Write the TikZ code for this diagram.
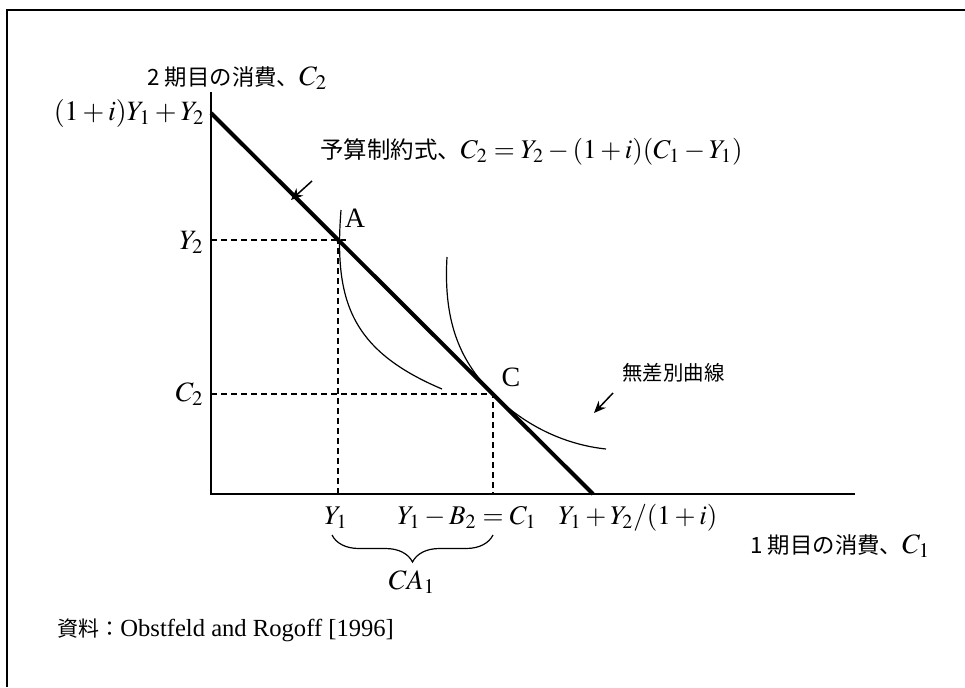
\documentclass[tikz,border=0pt]{standalone}
\usepackage{mathptmx}
\usepackage[no-math]{fontspec}
\setmainfont{Liberation Serif}
\newfontfamily\jpfont{Noto Sans CJK JP}
\usetikzlibrary{arrows.meta,decorations.pathreplacing}
\newcommand{\jtxt}[2]{{\jpfont\fontsize{#1}{#1}\selectfont #2}}
\newcommand{\fsz}[1]{\fontsize{#1}{#1}\selectfont}
\begin{document}
\begin{tikzpicture}[x=0.5pt,y=-0.5pt,
  every node/.style={inner sep=0pt, font=\fontsize{14pt}{16pt}\selectfont},
  axis/.style={line width=0.7pt},
  frameline/.style={line width=1pt},
  budget/.style={line width=2pt},
  guide/.style={line width=0.6pt, dash pattern=on 3pt off 2pt},
  icurve/.style={line width=0.6pt},
  pointer/.style={line width=0.75pt, -{Stealth[length=6pt,width=5pt]}},
  bracestyle/.style={line width=0.6pt, decorate, decoration={brace, amplitude=13.5pt}}
]
\useasboundingbox (0,0) rectangle (965,687);
% frame
\draw[frameline] (7,687) -- (7,10) -- (965,10);
% axes
\coordinate (O) at (211,494);
\coordinate (ytopend) at (211,92);
\coordinate (xend) at (855,494);
\draw[axis] (ytopend) -- (O) -- (xend);
% key points
\coordinate (A) at (338,240);
\coordinate (C) at (493,394);
% dashed guides
\draw[guide] (O |- A) -- (346,240);
\draw[guide] (A |- O) -- (A);
\draw[guide] (O |- C) -- (C) -- (C |- O);
% indifference curves
\draw[icurve] (341,210) .. controls (334,300) and (350,350) .. (442,389);
\draw[icurve] (447,257) .. controls (443,325) and (462,363) .. (C)
              .. controls (527,428) and (568,445) .. (606,449);
% budget line
\coordinate (bt) at (211,113);
\coordinate (bb) at (593,494);
\draw[budget] (bt) -- (bb);
% labels
\node[anchor=west] (ylab) at (147,78) {\jtxt{11.2pt}{2 期目の消費、}$C_2$};
\node[anchor=base east] (ytop) at (205,120) {$(1+i)Y_1+Y_2$};
\node[anchor=base east] (ly2) at (204,249) {$Y_2$};
\node[anchor=base east] (lc2) at (204,401) {$C_2$};
\node[anchor=base, font=\fsz{13.5pt}] (lx1) at (336,524) {$Y_1$};
\node[anchor=base west, font=\fsz{13.5pt}] (lxc) at (397,524) {$Y_1-B_2=C_1$};
\node[anchor=base west, font=\fsz{13.5pt}] (lxmax) at (558,524) {$Y_1+Y_2/(1+i)$};
\node[anchor=west] (xlab) at (750,546) {\jtxt{11.2pt}{1 期目の消費、}$C_1$};
\node (ca) at (412,582) {$CA_1$};
\node[anchor=west, font=\fsz{13.5pt}] (blab) at (320,152) {\jtxt{11.7pt}{予算制約式、}$C_2=Y_2-(1+i)(C_1-Y_1)$};
\node[anchor=west] (ilab) at (622,373) {\jtxt{10.2pt}{無差別曲線}};
\node (pa) at (355,218) {A};
\node (pc) at (511,377) {C};
\node[anchor=west] (src) at (57,630) {\jtxt{10.5pt}{資料：}{\fsz{12.3pt}Obstfeld and Rogoff [1996]}};
% pointers
\coordinate (p1s) at (312,181);
\coordinate (p1e) at (291,200);
\draw[pointer] (p1s) -- (p1e);
\coordinate (p2s) at (613,393);
\coordinate (p2e) at (594,413);
\draw[pointer] (p2s) -- (p2e);
% brace
\coordinate (brR) at (493,535);
\coordinate (brL) at (332,535);
\draw[bracestyle] (brR) -- (brL);
\end{tikzpicture}
\end{document}
